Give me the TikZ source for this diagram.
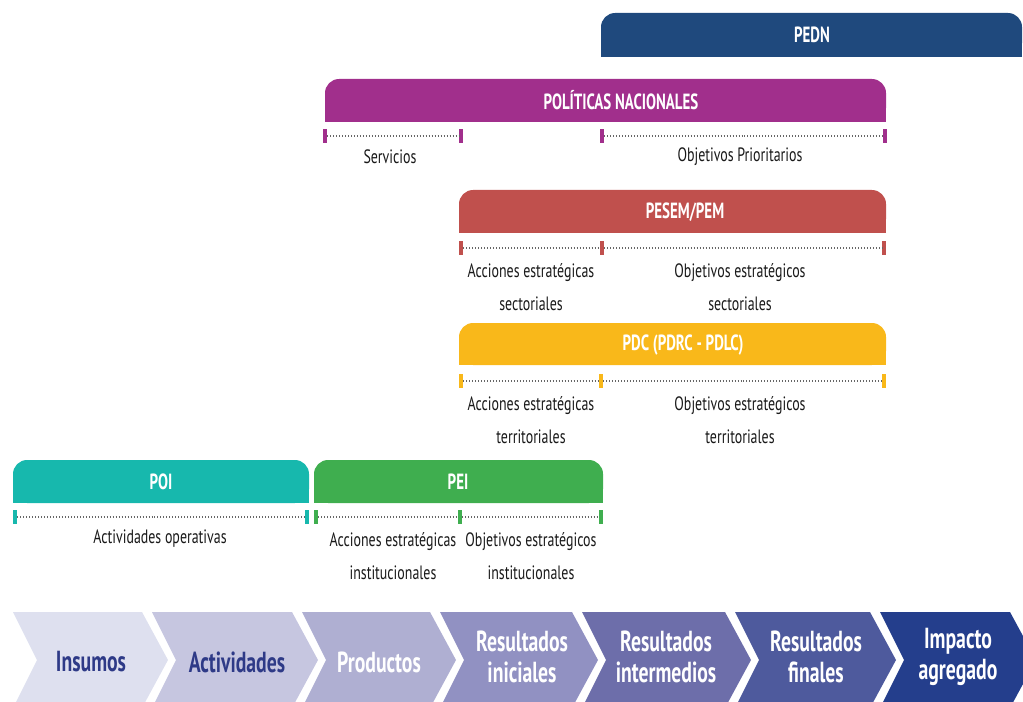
\documentclass[tikz,border=0pt]{standalone}
\usepackage{fontspec}
\setmainfont{PT Sans}[FakeStretch=0.72]
\newfontfamily\headfont{PT Sans}[FakeStretch=0.68]
\usepackage{tikz}

\definecolor{pednblue}{HTML}{1F497D}
\definecolor{polpurple}{HTML}{A12F8C}
\definecolor{pesemred}{HTML}{C0504D}
\definecolor{pdcyellow}{HTML}{F9B81A}
\definecolor{poiteal}{HTML}{17B8AD}
\definecolor{peigreen}{HTML}{3FAE4F}
\definecolor{chevA}{HTML}{DEE0EF}
\definecolor{chevB}{HTML}{C6C6E0}
\definecolor{chevC}{HTML}{AFAFD2}
\definecolor{chevD}{HTML}{9191C2}
\definecolor{chevE}{HTML}{6D6EAA}
\definecolor{chevF}{HTML}{4E5A9D}
\definecolor{chevG}{HTML}{243E8C}
\definecolor{navytext}{HTML}{2E3A87}

\tikzset{
  bartitle/.style={text=white, font=\headfont\bfseries\fontsize{12.5}{14}\selectfont},
  tickmark/.style={minimum width=0.07cm, minimum height=0.29cm, inner sep=0pt},
  dotline/.style={black!60, dash pattern=on 0.5pt off 1.2pt, line width=0.6pt},
  lbl/.style={text=black!90, align=center, font=\fontsize{11}{18.7}\selectfont},
  chevtext/.style={text=white, align=center, font=\headfont\bfseries\fontsize{16.5}{17.6}\selectfont}
}

\begin{document}
\begin{tikzpicture}[x=0.02cm, y=-0.02cm]
\useasboundingbox (0,0) rectangle (1023,702);
\clip (0,0) rectangle (1023,702);

% PEDN
\fill[pednblue, rounded corners=8pt] (601,13) rectangle (1022,57);
\fill[pednblue] (601,35) rectangle (1022,57);
\node[bartitle] (pedn) at (812,35) {PEDN};

% Politicas nacionales
\fill[polpurple, rounded corners=8pt] (325,79) rectangle (886,122);
\fill[polpurple] (325,100) rectangle (886,122);
\node[bartitle] (politicas) at (621,100) {POLÍTICAS NACIONALES};
\node[tickmark, fill=polpurple] (pn1) at (325,136) {};
\node[tickmark, fill=polpurple] (pn2) at (461,136) {};
\node[tickmark, fill=polpurple] (pn3) at (602,136) {};
\node[tickmark, fill=polpurple] (pn4) at (885,136) {};
\draw[dotline] (pn1) -- (pn2);
\draw[dotline] (pn3) -- (pn4);
\node[lbl] (servicios) at (390,157) {Servicios};
\node[lbl] (objprior) at (740,157) {Objetivos Prioritarios};

% PESEM
\fill[pesemred, rounded corners=8pt] (459,190) rectangle (886,233);
\fill[pesemred] (459,212) rectangle (886,233);
\node[bartitle] (pesem) at (685,212) {PESEM/PEM};
\node[tickmark, fill=pesemred] (ps1) at (461,248) {};
\node[tickmark, fill=pesemred] (ps2) at (602,248) {};
\node[tickmark, fill=pesemred] (ps3) at (884,248) {};
\draw[dotline] (ps1) -- (ps2);
\draw[dotline] (ps2) -- (ps3);
\node[lbl] (accsect) at (531,287) {Acciones estratégicas\\sectoriales};
\node[lbl] (objsect) at (740,287) {Objetivos estratégicos\\sectoriales};

% PDC
\fill[pdcyellow, rounded corners=8pt] (459,323) rectangle (886,365);
\fill[pdcyellow] (459,344) rectangle (886,365);
\node[bartitle] (pdc) at (683,345) {PDC (PDRC - PDLC)};
\node[tickmark, fill=pdcyellow] (pd1) at (461,381) {};
\node[tickmark, fill=pdcyellow] (pd2) at (601,381) {};
\node[tickmark, fill=pdcyellow] (pd3) at (884,381) {};
\draw[dotline] (pd1) -- (pd2);
\draw[dotline] (pd2) -- (pd3);
\node[lbl] (accterr) at (531,420) {Acciones estratégicas\\territoriales};
\node[lbl] (objterr) at (740,420) {Objetivos estratégicos\\territoriales};

% POI
\fill[poiteal, rounded corners=8pt] (13,460) rectangle (309,503);
\fill[poiteal] (13,482) rectangle (309,503);
\node[bartitle] (poi) at (161,482) {POI};
\node[tickmark, fill=poiteal] (po1) at (15,517) {};
\node[tickmark, fill=poiteal] (po2) at (307,517) {};
\draw[dotline] (po1) -- (po2);
\node[lbl] (actop) at (160,539) {Actividades operativas};

% PEI
\fill[peigreen, rounded corners=8pt] (314,460) rectangle (603,503);
\fill[peigreen] (314,482) rectangle (603,503);
\node[bartitle] (pei) at (458,482) {PEI};
\node[tickmark, fill=peigreen] (pe1) at (316,517) {};
\node[tickmark, fill=peigreen] (pe2) at (460,517) {};
\node[tickmark, fill=peigreen] (pe3) at (601,517) {};
\draw[dotline] (pe1) -- (pe2);
\draw[dotline] (pe2) -- (pe3);
\node[lbl] (accinst) at (393,556) {Acciones estratégicas\\institucionales};
\node[lbl] (objinst) at (531,556) {Objetivos estratégicos\\institucionales};

% cadena de resultados
\fill[chevA] (13,612) -- ++(129,0) -- ++(26,48) -- ++(-26,48) -- ++(-129,0) -- ++(24,-48) -- cycle;
\fill[chevB] (152,612) -- ++(140,0) -- ++(26,48) -- ++(-26,48) -- ++(-140,0) -- ++(24,-48) -- cycle;
\fill[chevC] (302,612) -- ++(128,0) -- ++(26,48) -- ++(-26,48) -- ++(-128,0) -- ++(24,-48) -- cycle;
\fill[chevD] (440,612) -- ++(132,0) -- ++(26,48) -- ++(-26,48) -- ++(-132,0) -- ++(24,-48) -- cycle;
\fill[chevE] (582,612) -- ++(143,0) -- ++(26,48) -- ++(-26,48) -- ++(-143,0) -- ++(24,-48) -- cycle;
\fill[chevF] (735,612) -- ++(135,0) -- ++(26,48) -- ++(-26,48) -- ++(-135,0) -- ++(24,-48) -- cycle;
\fill[chevG] (880,612) -- ++(130,0) -- ++(26,48) -- ++(-26,48) -- ++(-130,0) -- ++(24,-48) -- cycle;
\node[chevtext, text=navytext] (insumos) at (91,662) {Insumos};
\node[chevtext, text=navytext] (actividades) at (237,662) {Actividades};
\node[chevtext] (productos) at (379,662) {Productos};
\node[chevtext] (resini) at (522,657) {Resultados\\iniciales};
\node[chevtext] (resint) at (666,657) {Resultados\\intermedios};
\node[chevtext] (resfin) at (816,657) {Resultados\\finales};
\node[chevtext] (impacto) at (958,657) {Impacto\\agregado};
\end{tikzpicture}
\end{document}
